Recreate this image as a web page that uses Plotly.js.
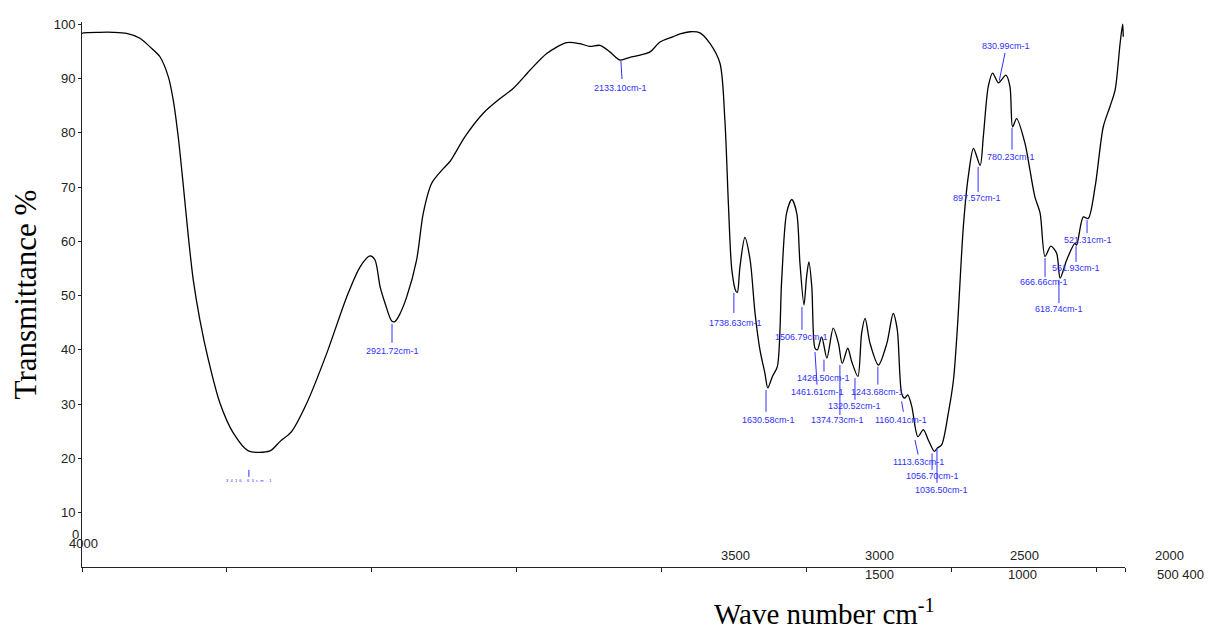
<!DOCTYPE html>
<html>
<head>
<meta charset="utf-8">
<script src="https://cdn.plot.ly/plotly-3.0.1.min.js"></script>
<style>html,body{margin:0;padding:0;background:#fff;}#chart{width:1208px;height:629px;}</style>
</head>
<body>
<div id="chart"></div>
<script>
// Spectrum: wavenumber (cm-1) and transmittance (%)
const wavenumber = [4000, 3995, 3940, 3892, 3846, 3800, 3759, 3731, 3702, 3685, 3668, 3650, 3633, 3616, 3593, 3564, 3524, 3478, 3426, 3351, 3317, 3276, 3224, 3155, 3086, 3040, 3006, 2989, 2971, 2954, 2931, 2920, 2902, 2879, 2845, 2822, 2793, 2753, 2730, 2678, 2615, 2557, 2511, 2454, 2396, 2327, 2281, 2247, 2212, 2178, 2143, 2109, 2074, 2039, 2005, 1959, 1936, 1901, 1867, 1832, 1798, 1781, 1769, 1757, 1743, 1738, 1729, 1712, 1694, 1677, 1660, 1643, 1633, 1617, 1600, 1585, 1568, 1550, 1533, 1522, 1508, 1499, 1491, 1481, 1470, 1462, 1447, 1429, 1407, 1389, 1376, 1357, 1343, 1322, 1309, 1297, 1280, 1251, 1222, 1200, 1186, 1171, 1161, 1150, 1136, 1115, 1096, 1079, 1058, 1048, 1033, 1010, 992, 978, 958, 941, 923, 900, 889, 872, 857, 837, 811, 797, 788, 774, 745, 728, 711, 693, 676, 656, 636, 624, 601, 573, 567, 544, 527, 503, 475, 452, 434, 417, 408, 406];
const transmittance = [98.3, 98.4, 98.5, 98.5, 98.3, 97.4, 95.5, 94.0, 90.3, 86.0, 79.3, 70.1, 60.9, 52.9, 45.5, 38.2, 30.2, 24.7, 21.4, 21.4, 23.1, 25.0, 30.2, 39.4, 49.8, 55.3, 57.3, 56.6, 51.6, 48.6, 45.3, 45.2, 46.7, 49.8, 56.6, 65.2, 70.7, 73.4, 74.7, 79.3, 83.6, 86.3, 88.2, 91.5, 94.6, 96.6, 96.4, 95.9, 96.1, 94.9, 93.4, 93.9, 94.3, 94.9, 96.7, 97.7, 98.2, 98.6, 98.4, 96.4, 92.8, 82.3, 67.0, 54.7, 50.8, 50.6, 55.3, 60.7, 56.6, 46.8, 40.0, 35.7, 33.0, 35.1, 36.9, 52.9, 65.2, 67.7, 65.2, 56.0, 48.3, 53.5, 56.2, 51.6, 40.3, 40.0, 42.4, 38.5, 44.0, 41.2, 37.5, 40.3, 37.8, 35.1, 43.1, 45.8, 41.2, 37.2, 41.2, 46.7, 43.7, 32.0, 31.1, 31.7, 29.6, 24.0, 25.3, 23.4, 21.3, 21.9, 22.5, 28.3, 34.5, 44.5, 62.7, 71.9, 77.1, 74.0, 79.3, 88.5, 91.0, 89.2, 90.6, 88.5, 81.1, 82.6, 78.0, 73.1, 68.2, 65.2, 57.2, 59.1, 57.8, 53.2, 56.6, 59.6, 59.3, 64.5, 64.2, 70.1, 81.1, 84.8, 87.9, 96.4, 100.0, 97.7];

// Peak labels
const peakLabels = ["3416.63cm-1", "2921.72cm-1", "2133.10cm-1", "1738.63cm-1", "1630.58cm-1", "1506.79cm-1", "1426.50cm-1", "1461.61cm-1", "1320.52cm-1", "1374.73cm-1", "1243.68cm-1", "1160.41cm-1", "1113.63cm-1", "1056.70cm-1", "1036.50cm-1", "830.99cm-1", "780.23cm-1", "897.57cm-1", "666.66cm-1", "618.74cm-1", "561.93cm-1", "521.31cm-1"];

// Y tick labels and the (misplaced) x tick labels as printed in the original
const yTickVals = [10, 20, 30, 40, 50, 60, 70, 80, 90, 100];
const xTickVals = [4000, 3500, 3000, 2500, 2000, 1500, 1000, 500, 400];
const xTickTextUpper = ["3500", "3000", "2500", "2000"];
const xTickTextLower = ["1500", "1000", "500 400"];

// placement of peak marker lines and labels (data units): [x1, y1, x2, y2, textX, textY]
const peakPlacement = [
  [3424, 17.9, 3424, 16.6, 3424, 15.9],
  [2930, 44.8, 2930, 41.3, 2930, 39.8],
  [2140, 93.2, 2136, 89.9, 2140, 88.2],
  [1750, 50.5, 1750, 46.8, 1746, 45.0],
  [1639, 32.6, 1639, 28.6, 1632, 27.1],
  [1515, 47.9, 1515, 43.7, 1515, 42.4],
  [1439, 38.2, 1439, 36.0, 1439, 34.8],
  [1470, 39.6, 1463, 33.6, 1463, 32.3],
  [1332, 34.8, 1332, 30.8, 1332, 29.7],
  [1384, 37.2, 1384, 28.0, 1391, 27.1],
  [1253, 36.9, 1253, 33.6, 1253, 32.3],
  [1171, 30.5, 1165, 28.6, 1173, 27.1],
  [1125, 23.4, 1114, 20.7, 1114, 19.4],
  [1066, 20.9, 1066, 17.9, 1066, 16.8],
  [1049, 21.9, 1049, 15.5, 1032, 14.2],
  [814, 94.7, 834, 89.6, 811, 95.9],
  [790, 80.9, 790, 76.9, 793, 75.5],
  [907, 73.7, 907, 69.1, 911, 68.0],
  [676, 56.9, 676, 53.4, 680, 52.5],
  [628, 52.9, 628, 48.6, 628, 47.5],
  [569, 59.1, 569, 56.2, 569, 55.1],
  [531, 63.9, 531, 61.5, 528, 60.2]
];

const blue = '#2f2fff';
const shapes = [];
const annotations = [];
peakLabels.forEach((lab, i) => {
  const p = peakPlacement[i];
  shapes.push({type: 'line', xref: 'x', yref: 'y', x0: p[0], y0: p[1], x1: p[2], y1: p[3], line: {color: blue, width: 1}});
  const tiny = i === 0;
  annotations.push({xref: 'x', yref: 'y', x: p[4], y: p[5], showarrow: false, xanchor: 'center', yanchor: 'middle',
    text: tiny ? lab.split('').join('\u00a0\u00a0') : lab,
    font: {family: 'Arial, Liberation Sans, sans-serif', size: tiny ? 4 : 9, color: blue}});
});

const tickFont = {family: 'Arial, Liberation Sans, sans-serif', size: 13, color: '#222'};
const upperX = [0.627, 0.765, 0.904, 1.043];
xTickTextUpper.forEach((t, i) => annotations.push({xref: 'paper', yref: 'paper', x: upperX[i], y: 0.022, text: t, showarrow: false, font: tickFont, xanchor: 'center', yanchor: 'middle'}));
const lowerX = [0.765, 0.902, 1.053];
xTickTextLower.forEach((t, i) => annotations.push({xref: 'paper', yref: 'paper', x: lowerX[i], y: -0.0146, text: t, showarrow: false, font: tickFont, xanchor: 'center', yanchor: 'middle'}));
annotations.push({xref: 'paper', yref: 'paper', x: 0.0015, y: 0.043, text: '4000', showarrow: false, font: tickFont, xanchor: 'center', yanchor: 'middle'});
annotations.push({xref: 'paper', yref: 'paper', x: -0.0065, y: 0.060, text: '0', showarrow: false, font: tickFont, xanchor: 'center', yanchor: 'middle'});
annotations.push({xref: 'paper', yref: 'paper', x: 0.712, y: -0.083, text: 'Wave number cm<sup>-1</sup>', showarrow: false,
  font: {family: 'Times New Roman, Liberation Serif, serif', size: 29, color: '#000'}, xanchor: 'center', yanchor: 'middle'});

const trace = {x: wavenumber, y: transmittance, type: 'scatter', mode: 'lines',
  line: {color: '#000', width: 1.3, shape: 'spline', smoothing: 0.8}, hoverinfo: 'x+y'};

const layout = {
  width: 1208, height: 629,
  margin: {l: 82, r: 83, t: 22, b: 62},
  paper_bgcolor: '#fff', plot_bgcolor: '#fff',
  showlegend: false,
  xaxis: {range: [4000, 400], showgrid: false, zeroline: false, showline: true, linecolor: '#222', linewidth: 1,
    ticks: 'outside', ticklen: 4, tickcolor: '#222', tickmode: 'array', tickvals: xTickVals, showticklabels: false},
  yaxis: {range: [0, 100.4], showgrid: false, zeroline: false, showline: true, linecolor: '#222', linewidth: 1,
    ticks: 'outside', ticklen: 3, tickcolor: '#222', tickmode: 'array', tickvals: yTickVals, tickfont: tickFont,
    title: {text: 'Transmittance %', font: {family: 'Times New Roman, Liberation Serif, serif', size: 31, color: '#000'}, standoff: 7}},
  shapes: shapes,
  annotations: annotations
};

Plotly.newPlot('chart', [trace], layout, {displayModeBar: false, staticPlot: true});
</script>
</body>
</html>
